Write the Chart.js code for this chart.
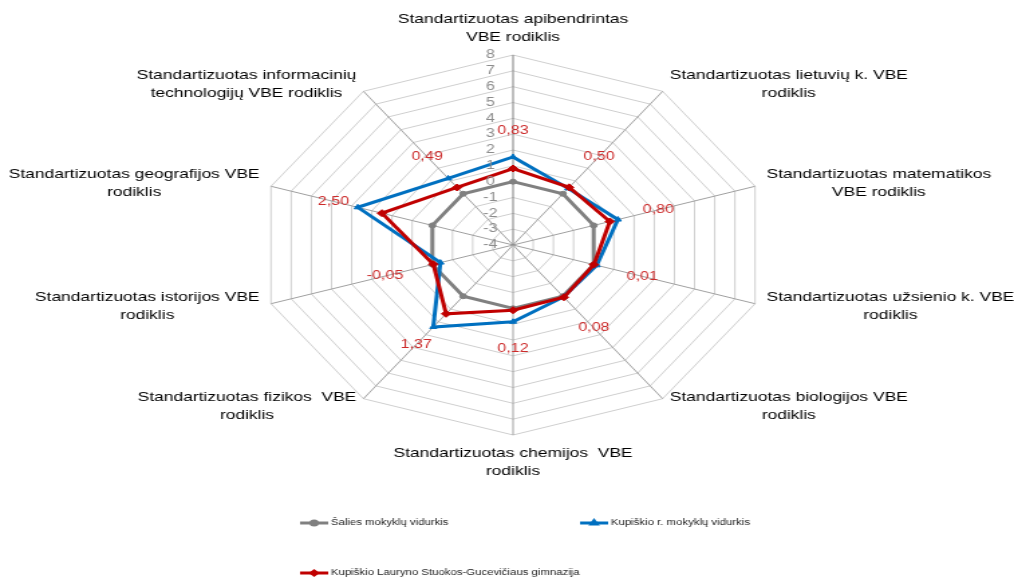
<!DOCTYPE html>
<html>
<head>
<meta charset="utf-8">
<script src="https://cdn.jsdelivr.net/npm/chart.js@4.4.0/dist/chart.umd.min.js"></script>
<style>
    html, body { margin: 0; padding: 0; background: #fff; overflow: hidden; }
    /* the reference picture is stretched sideways, so the chart is drawn narrow and widened */
    #wrap { position: absolute; left: 0; top: 0; width: 757px; height: 582px; transform: scaleX(1.3395); transform-origin: 0 0; }
</style>
</head>
<body>
<div id="wrap"><canvas id="radarChart"></canvas></div>
<script>
const categories = [
    ['Standartizuotas apibendrintas', 'VBE rodiklis'],
    ['Standartizuotas lietuvių k. VBE', 'rodiklis'],
    ['Standartizuotas matematikos', 'VBE rodiklis'],
    ['Standartizuotas užsienio k. VBE', 'rodiklis'],
    ['Standartizuotas biologijos VBE', 'rodiklis'],
    ['Standartizuotas chemijos  VBE', 'rodiklis'],
    ['Standartizuotas fizikos  VBE', 'rodiklis'],
    ['Standartizuotas istorijos VBE', 'rodiklis'],
    ['Standartizuotas geografijos VBE', 'rodiklis'],
    ['Standartizuotas informacinių', 'technologijų VBE rodiklis'],
];
const tickLabels = [8, 7, 6, 5, 4, 3, 2, 1, 0, -1, -2, -3, -4];
const seriesNames = [
    'Šalies mokyklų vidurkis',
    'Kupiškio r. mokyklų vidurkis',
    'Kupiškio Lauryno Stuokos-Gucevičiaus gimnazija',
];
const nationalAvg = [0, 0, 0, 0, 0, 0, 0, 0, 0, 0];
const districtAvg = [1.56, 0.42, 1.2, 0.15, 0.05, 0.85, 2.4, -0.4, 3.7, 1.2];
const schoolValues = [0.83, 0.50, 0.80, 0.01, 0.08, 0.12, 1.37, -0.05, 2.50, 0.49];

const GRAY = '#808080';
const BLUE = '#0070C0';
const RED = '#C00000';
const LABEL_RED = '#CC2B2B';
const FONT = '"Liberation Sans", Arial, sans-serif';

const fmt = (v) => v.toFixed(2).replace('.', ',');

// tick labels, axis names and the red value labels
const labelsPlugin = {
    id: 'labelsPlugin',
    afterDatasetsDraw(chart) {
        const { ctx } = chart;
        const scale = chart.scales.r;
        ctx.save();

        ctx.fillStyle = '#8c8c8c';
        ctx.font = `12px ${FONT}`;
        ctx.textAlign = 'center';
        ctx.textBaseline = 'middle';
        tickLabels.forEach((t) => {
            const d = scale.getDistanceFromCenterForValue(t);
            ctx.fillText(String(t), scale.xCenter - 17, scale.yCenter - d);
        });

        ctx.fillStyle = '#000';
        ctx.font = `13px ${FONT}`;
        const lineH = 18;
        categories.forEach((lines, i) => {
            const pos = scale.getPointPosition(i, scale.drawingArea + 9);
            const angle = scale.getIndexAngle(i);
            const sin = Math.sin(angle);
            const cos = Math.cos(angle);
            const blockW = Math.max(...lines.map((l) => ctx.measureText(l).width));
            const blockH = lines.length * lineH;
            let left;
            if (Math.abs(sin) < 0.01) left = pos.x - blockW / 2;
            else if (sin > 0) left = pos.x;
            else left = pos.x - blockW;
            let top;
            if (cos > 0.99) top = pos.y - blockH;
            else if (cos < -0.99) top = pos.y;
            else top = pos.y - blockH / 2;
            lines.forEach((l, k) => {
                ctx.fillText(l, left + blockW / 2, top + lineH * k + lineH / 2);
            });
        });

        ctx.fillStyle = LABEL_RED;
        ctx.font = `12px ${FONT}`;
        schoolValues.forEach((v, i) => {
            const d = scale.getDistanceFromCenterForValue(v) + 38;
            const p = scale.getPointPosition(i, d);
            ctx.fillText(fmt(v), p.x, p.y);
        });
        ctx.restore();
    },
};

// legend laid out like the Excel one: two items on the first row, one below
const legendPlugin = {
    id: 'legendPlugin',
    afterDraw(chart) {
        const { ctx } = chart;
        const spots = [[224, 523], [433, 523], [224, 573]];
        ctx.save();
        ctx.font = `8.5px ${FONT}`;
        ctx.textBaseline = 'middle';
        ctx.textAlign = 'left';
        chart.data.datasets.forEach((ds, i) => {
            const [x, y] = spots[i];
            ctx.strokeStyle = ds.borderColor;
            ctx.lineWidth = 3;
            ctx.beginPath();
            ctx.moveTo(x, y);
            ctx.lineTo(x + 21, y);
            ctx.stroke();
            ctx.fillStyle = ds.borderColor;
            Chart.helpers.drawPoint(ctx, { pointStyle: ds.pointStyle, radius: 2, rotation: 0, borderWidth: 1 }, x + 10.5, y);
            ctx.fill();
            ctx.fillStyle = '#222';
            ctx.fillText(ds.label, x + 23, y);
        });
        ctx.restore();
    },
};

new Chart(document.getElementById('radarChart'), {
    type: 'radar',
    data: {
        labels: categories,
        datasets: [
            {
                label: seriesNames[0],
                data: nationalAvg,
                borderColor: GRAY,
                backgroundColor: GRAY,
                pointStyle: 'circle',
                pointRadius: 2.5,
                order: 2,
            },
            {
                label: seriesNames[1],
                data: districtAvg,
                borderColor: BLUE,
                backgroundColor: BLUE,
                pointStyle: 'triangle',
                pointRadius: 3,
                order: 1,
            },
            {
                label: seriesNames[2],
                data: schoolValues,
                borderColor: RED,
                backgroundColor: RED,
                pointStyle: 'rectRot',
                pointRadius: 3.5,
                order: 0,
            },
        ],
    },
    options: {
        responsive: true,
        maintainAspectRatio: false,
        animation: false,
        layout: {
            padding: { left: 10, right: 0, top: 55, bottom: 147 },
        },
        elements: {
            line: { borderWidth: 3, tension: 0, fill: false },
            point: { borderWidth: 1 },
        },
        scales: {
            r: {
                min: -4,
                max: 8,
                ticks: { stepSize: 1, display: false, showLabelBackdrop: false },
                pointLabels: { display: false },
                grid: { color: '#cfcfcf', lineWidth: 1 },
                angleLines: {
                    color: (c) => (c.index === 0 ? '#7f7f7f' : '#a0a0a0'),
                    lineWidth: 1,
                },
            },
        },
        plugins: {
            legend: { display: false },
            tooltip: { enabled: false },
        },
    },
    plugins: [labelsPlugin, legendPlugin],
});
</script>
</body>
</html>
